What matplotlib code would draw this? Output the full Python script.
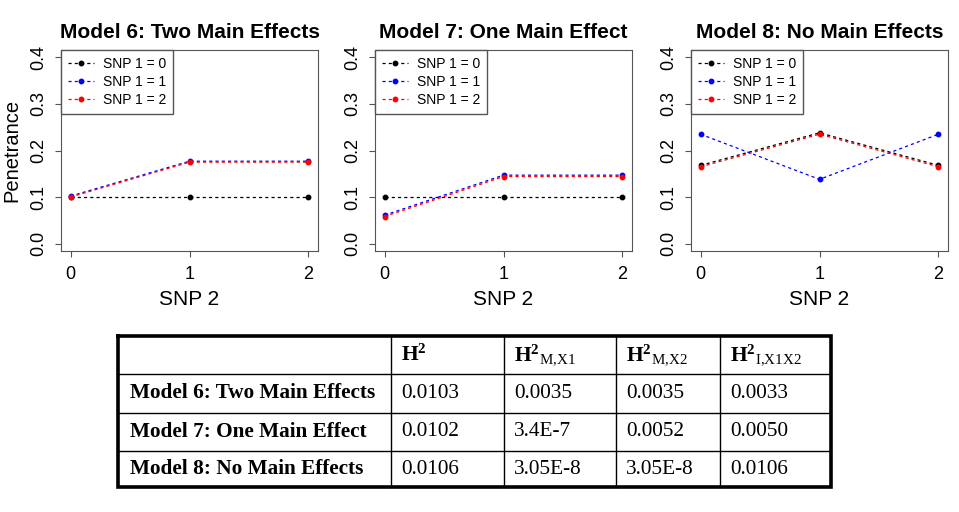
import matplotlib
matplotlib.use("Agg")
import matplotlib.pyplot as plt

plt.rcParams['font.family'] = ['Liberation Sans', 'DejaVu Sans']
plt.rcParams['mathtext.fontset'] = 'custom'
plt.rcParams['mathtext.rm'] = 'Liberation Serif'
plt.rcParams['mathtext.bf'] = 'Liberation Serif:bold'
plt.rcParams['mathtext.it'] = 'Liberation Serif:italic'

# ---- data ----
snp2 = [0, 1, 2]
titles = ["Model 6: Two Main Effects", "Model 7: One Main Effect", "Model 8: No Main Effects"]
series_labels = ["SNP 1 = 0", "SNP 1 = 1", "SNP 1 = 2"]
series_colors = ["black", "blue", "red"]

model6 = [[0.100, 0.100, 0.100],
          [0.102, 0.177, 0.177],
          [0.100, 0.175, 0.175]]
model7 = [[0.100, 0.100, 0.100],
          [0.061, 0.147, 0.147],
          [0.058, 0.144, 0.144]]
model8 = [[0.168, 0.238, 0.168],
          [0.235, 0.138, 0.235],
          [0.165, 0.235, 0.165]]
models = [model6, model7, model8]

yticks = [0.0, 0.1, 0.2, 0.3, 0.4]
ytick_labels = ["0.0", "0.1", "0.2", "0.3", "0.4"]

table_header = ["",
                r"$\mathbf{H}^{\mathbf{2}}$",
                r"$\mathbf{H}^{\mathbf{2}}{}_{\mathrm{M{,}X1}}$",
                r"$\mathbf{H}^{\mathbf{2}}{}_{\mathrm{M{,}X2}}$",
                r"$\mathbf{H}^{\mathbf{2}}{}_{\mathrm{I{,}X1X2}}$"]
table_rows = ["Model 6: Two Main Effects", "Model 7: One Main Effect", "Model 8: No Main Effects"]
table_h2 = ["0.0103", "0.0102", "0.0106"]
table_m1 = ["0.0035", "3.4E-7", "3.05E-8"]
table_m2 = ["0.0035", "0.0052", "3.05E-8"]
table_i12 = ["0.0033", "0.0050", "0.0106"]

# ---- figure ----
fig = plt.figure(figsize=(9.59, 5.12), dpi=100)
W, H = 959.0, 512.0
spine_col = '#555555'

lefts = [61, 375, 691]
for k in range(3):
    ax = fig.add_axes([lefts[k] / W, 1 - 251 / H, 257 / W, 201 / H])
    for i in range(3):
        ax.plot(snp2, models[k][i], color=series_colors[i], lw=0.9,
                linestyle=(0, (2.5, 2.5)), marker='o', markersize=3.2,
                label=series_labels[i])
    ax.set_xlim(-0.08, 2.08)
    ax.set_ylim(-0.016, 0.416)
    ax.set_xticks(snp2)
    ax.set_xticklabels([str(v) for v in snp2])
    ax.set_yticks(yticks)
    ax.set_yticklabels(ytick_labels, rotation=90, va='center')
    ax.tick_params(axis='both', labelsize=13, length=4, color=spine_col)
    ax.tick_params(axis='x', pad=7)
    ax.tick_params(axis='y', pad=6)
    for s in ax.spines.values():
        s.set_color(spine_col)
    ax.set_title(titles[k], fontsize=15, fontweight='bold', pad=9)
    ax.set_xlabel("SNP 2", fontsize=15, labelpad=5)
    if k == 0:
        ax.set_ylabel("Penetrance", fontsize=14.5, labelpad=6)
    leg = ax.legend(loc='upper left', fontsize=10, frameon=True, fancybox=False,
                    borderaxespad=0.0, borderpad=0.5, labelspacing=0.3,
                    handlelength=1.9, handletextpad=0.6)
    leg.get_frame().set_edgecolor(spine_col)
    leg.get_frame().set_linewidth(1.0)
    leg.get_frame().set_alpha(1)

# ---- table ----
tax = fig.add_axes([0, 0, 1, 1])
tax.set_xlim(0, W)
tax.set_ylim(H, 0)
tax.axis('off')

col_x = [118, 391, 504, 616, 720, 831]
row_y = [336, 374, 413, 451, 487]

for x in col_x[1:-1]:
    tax.plot([x, x], [row_y[0], row_y[-1]], color='black', lw=1.0)
for y in row_y[1:-1]:
    tax.plot([col_x[0], col_x[-1]], [y, y], color='black', lw=1.0)
tax.plot([col_x[0], col_x[-1], col_x[-1], col_x[0], col_x[0]],
         [row_y[0], row_y[0], row_y[-1], row_y[-1], row_y[0]],
         color='black', lw=2.6, solid_joinstyle='miter')

serif = ['Liberation Serif', 'DejaVu Serif']
for j, txt in enumerate(table_header):
    if txt:
        tax.text(col_x[j] + 10, (row_y[0] + row_y[1]) / 2, txt, fontsize=15.5,
                 ha='left', va='center', family=serif)

columns = [table_h2, table_m1, table_m2, table_i12]
for i in range(3):
    yc = (row_y[i + 1] + row_y[i + 2]) / 2
    tax.text(col_x[0] + 12, yc, table_rows[i], fontsize=15.3, fontweight='bold',
             ha='left', va='center', family=serif)
    for j, col in enumerate(columns):
        tax.text(col_x[j + 1] + 10, yc, col[i], fontsize=15.3,
                 ha='left', va='center', family=serif)

fig.savefig("out.png", dpi=100)
